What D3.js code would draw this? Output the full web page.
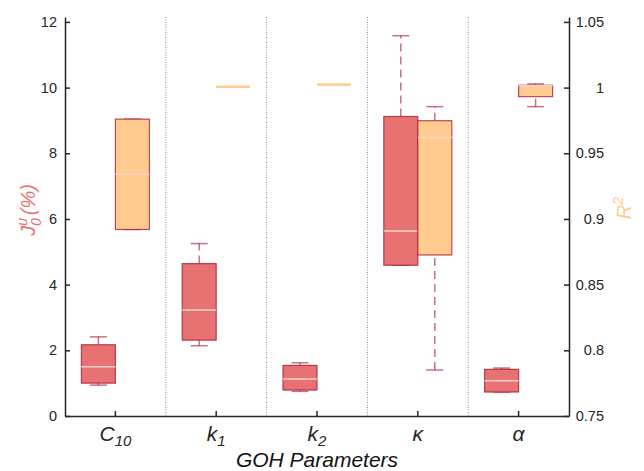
<!DOCTYPE html>
<html lang="en">
<head>
<meta charset="UTF-8">
<title>GOH Parameters boxplot</title>
<script src="https://d3js.org/d3.v7.min.js"></script>
<style>
  body { margin: 0; background: #fff; }
  svg { font-family: "Liberation Sans", Arial, sans-serif; }
  .axis text { font-size: 14.5px; fill: #262626; }
  .axis path, .axis line { stroke: #262626; stroke-width: 1.5; }
</style>
</head>
<body>
<svg id="chart" width="644" height="471"></svg>
<script>
// categories (label base + subscript)
const categories = ["C10", "k1", "k2", "kappa", "alpha"];
const catBase = ["C", "k", "k", "\u03BA", "\u03B1"];
const catSub = ["10", "1", "2", "", ""];

// [lower whisker, q1, median, q3, upper whisker]
const jStats = [
  [0.94, 1.00, 1.50, 2.17, 2.41],
  [2.14, 2.31, 3.23, 4.64, 5.25],
  [0.75, 0.79, 1.13, 1.54, 1.62],
  [4.59, 4.59, 5.63, 9.12, 11.58],
  [0.73, 0.73, 1.07, 1.42, 1.46]
];
const r2Stats = [
  [0.892, 0.892, 0.934, 0.976, 0.976],
  [1.0010, 1.0010, 1.0013, 1.0016, 1.0016],
  [1.0026, 1.0026, 1.0029, 1.0032, 1.0032],
  [0.785, 0.8726, 0.962, 0.9748, 0.9855],
  [0.9855, 0.9931, 1.0015, 1.0018, 1.0028]
];

const leftTicks = [0, 2, 4, 6, 8, 10, 12];
const rightTicks = [0.75, 0.8, 0.85, 0.9, 0.95, 1, 1.05];

const redFill = "#e87172", orangeFill = "#ffcb8e", edge = "#a2142f";

const svg = d3.select("#chart");
const mLeft = 65, mRight = 569, mTop = 17, mBottom = 416;

const x = d3.scaleBand().domain(categories).range([mLeft, mRight]).padding(0);
const yL = d3.scaleLinear().domain([0, 12.15]).range([mBottom, mTop]);
const yR = d3.scaleLinear().domain([0.75, 1.05375]).range([mBottom, mTop]);

// dotted separators
svg.append("g").selectAll("line")
  .data(categories.slice(1))
  .enter().append("line")
  .attr("x1", d => x(d)).attr("x2", d => x(d))
  .attr("y1", mTop).attr("y2", mBottom)
  .attr("stroke", "#8c8c8c").attr("stroke-width", 1)
  .attr("stroke-dasharray", "1,1.5");

function drawBoxes(stats, yScale, offset, fill) {
  const bw = 34, cap = 17;
  const g = svg.append("g");
  stats.forEach((s, i) => {
    const cx = x(categories[i]) + x.bandwidth() / 2 + offset;
    const b = g.append("g");
    const h = yScale(s[1]) - yScale(s[3]);
    const tiny = h < 3;
    // whiskers
    [[s[0], s[1]], [s[3], s[4]]].forEach(([a, c]) => {
      if (Math.abs(yScale(a) - yScale(c)) > 0.5) {
        b.append("line")
          .attr("x1", cx).attr("x2", cx)
          .attr("y1", yScale(a)).attr("y2", yScale(c))
          .attr("stroke", edge).attr("stroke-opacity", 0.6)
          .attr("stroke-width", 1.5).attr("stroke-dasharray", "8,5");
      }
    });
    if (!tiny) {
      [s[0], s[4]].forEach(v => {
        b.append("line")
          .attr("x1", cx - cap / 2).attr("x2", cx + cap / 2)
          .attr("y1", yScale(v)).attr("y2", yScale(v))
          .attr("stroke", edge).attr("stroke-opacity", 0.6)
          .attr("stroke-width", 1.5);
      });
    }
    b.append("rect")
      .attr("x", cx - bw / 2).attr("width", bw)
      .attr("y", yScale(s[3]))
      .attr("height", Math.max(h, 2.5))
      .attr("fill", fill)
      .attr("stroke", tiny ? "none" : edge).attr("stroke-opacity", 0.75)
      .attr("stroke-width", 1.2);
    if (!tiny) {
      b.append("line")
        .attr("x1", cx - bw / 2).attr("x2", cx + bw / 2)
        .attr("y1", yScale(s[2])).attr("y2", yScale(s[2]))
        .attr("stroke", "#f6d2cc").attr("stroke-width", 1.5);
    }
  });
}

drawBoxes(jStats, yL, -17, redFill);
drawBoxes(r2Stats, yR, 17, orangeFill);

// left axis
svg.append("g")
  .attr("class", "axis")
  .attr("transform", `translate(${mLeft},0)`)
  .call(d3.axisLeft(yL).tickValues(leftTicks).tickSize(-5).tickSizeOuter(0).tickPadding(8));

// right axis
const ra = svg.append("g")
  .attr("class", "axis")
  .attr("transform", `translate(${mRight},0)`)
  .call(d3.axisRight(yR).tickValues(rightTicks).tickSize(-5).tickSizeOuter(0)
    .tickFormat(d => d3.format("")(+d.toFixed(2))));
ra.selectAll(".tick text").attr("text-anchor", "end").attr("x", 35);

// bottom axis
const ba = svg.append("g")
  .attr("class", "axis")
  .attr("transform", `translate(0,${mBottom})`)
  .call(d3.axisBottom(x).tickSize(-5).tickSizeOuter(0).tickPadding(10));
ba.selectAll(".tick text").each(function(d, i) {
  const t = d3.select(this).text(null)
    .style("font-size", "21px").style("font-style", "italic")
    .attr("fill", "#111");
  t.append("tspan").text(catBase[i]);
  if (catSub[i]) {
    t.append("tspan").text(catSub[i]).style("font-size", "15px").attr("dy", 5);
  }
});

// axis titles
svg.append("text")
  .attr("x", (mLeft + mRight) / 2).attr("y", 467)
  .attr("text-anchor", "middle")
  .style("font-size", "21px").style("font-style", "italic")
  .attr("fill", "#111")
  .text("GOH Parameters");

const lt = svg.append("text")
  .attr("transform", "translate(35,210) rotate(-90)")
  .attr("text-anchor", "middle")
  .style("font-size", "20px").style("font-style", "italic")
  .attr("fill", redFill);
lt.append("tspan").text("J");
lt.append("tspan").text("u").style("font-size", "14px").attr("dy", -8);
lt.append("tspan").text("0").style("font-size", "14px").attr("dx", -8).attr("dy", 14);
lt.append("tspan").text("(%)").attr("dx", 3).attr("dy", -6);

const rt = svg.append("text")
  .attr("transform", "translate(631,208) rotate(-90)")
  .attr("text-anchor", "middle")
  .style("font-size", "20px").style("font-style", "italic")
  .attr("fill", orangeFill);
rt.append("tspan").text("R");
rt.append("tspan").text("2").style("font-size", "14px").attr("dy", -8);
</script>
</body>
</html>
